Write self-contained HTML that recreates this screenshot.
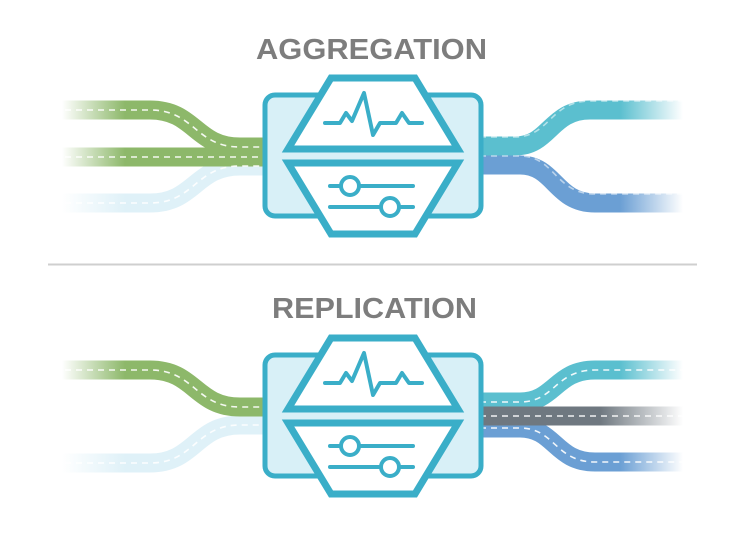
<!DOCTYPE html>
<html><head><meta charset="utf-8"><style>html,body{margin:0;padding:0;background:#fff}svg{display:block}</style></head>
<body>
<svg width="750" height="540" viewBox="0 0 750 540" xmlns="http://www.w3.org/2000/svg">
<defs>
<linearGradient id="fg" gradientUnits="userSpaceOnUse" x1="62" y1="0" x2="125" y2="0"><stop offset="0" stop-color="#8db86a" stop-opacity="0"/><stop offset="1" stop-color="#8db86a"/></linearGradient>
<linearGradient id="fl" gradientUnits="userSpaceOnUse" x1="62" y1="0" x2="125" y2="0"><stop offset="0" stop-color="#dff1f8" stop-opacity="0"/><stop offset="1" stop-color="#dff1f8"/></linearGradient>
<linearGradient id="ft" gradientUnits="userSpaceOnUse" x1="620" y1="0" x2="683" y2="0"><stop offset="0" stop-color="#5bbfcf"/><stop offset="1" stop-color="#5bbfcf" stop-opacity="0"/></linearGradient>
<linearGradient id="fb" gradientUnits="userSpaceOnUse" x1="620" y1="0" x2="683" y2="0"><stop offset="0" stop-color="#6b9fd4"/><stop offset="1" stop-color="#6b9fd4" stop-opacity="0"/></linearGradient>
<linearGradient id="fk" gradientUnits="userSpaceOnUse" x1="600" y1="0" x2="683" y2="0"><stop offset="0" stop-color="#6f7880"/><stop offset="1" stop-color="#6f7880" stop-opacity="0"/></linearGradient>
<g id="box">
<rect x="265" y="95" width="216" height="121" rx="10" fill="#d8f0f7" stroke="#3aaec8" stroke-width="5"/>
<polygon points="331,78 415,78 458,149 288,149" fill="#fff" stroke="#3aaec8" stroke-width="7"/>
<polygon points="288,163 458,163 415,234 331,234" fill="#fff" stroke="#3aaec8" stroke-width="7"/>
<polyline points="325,123 340,123 346,113 352,121 364,93 373,135 380,123 396,123 402,113 409,123 422,123" fill="none" stroke="#3aaec8" stroke-width="4" stroke-linejoin="round" stroke-linecap="round"/>
<line x1="330" y1="186" x2="413" y2="186" stroke="#3aaec8" stroke-width="4" stroke-linecap="round"/>
<line x1="330" y1="207" x2="413" y2="207" stroke="#3aaec8" stroke-width="4" stroke-linecap="round"/>
<circle cx="350" cy="186" r="9" fill="#fff" stroke="#3aaec8" stroke-width="4"/>
<circle cx="390" cy="207" r="9" fill="#fff" stroke="#3aaec8" stroke-width="4"/>
</g>
</defs>
<g fill="none" stroke-width="19">
<!-- top section left -->
<path d="M60,203 H150 C195,203 195,166 240,166 H266" stroke="url(#fl)"/>
<path d="M60,110 H150 C195,110 195,147 240,147 H266" stroke="url(#fg)"/>
<path d="M60,157 H266" stroke="url(#fg)"/>
<!-- top right -->
<path d="M480,146 H515 C550,146 550,110 590,110 H685" stroke="url(#ft)"/>
<path d="M480,165 H520 C555,165 555,203 595,203 H685" stroke="url(#fb)"/>
<!-- bottom left -->
<path d="M60,463 H150 C195,463 195,425 240,425 H266" stroke="url(#fl)"/>
<path d="M60,370 H150 C195,370 195,407 240,407 H266" stroke="url(#fg)"/>
<!-- bottom right -->
<path d="M480,402 H520 C555,402 555,370 595,370 H685" stroke="url(#ft)"/>
<path d="M480,428 H520 C555,428 555,462 595,462 H685" stroke="url(#fb)"/>
<path d="M480,416 H685" stroke="url(#fk)"/>
</g>
<g fill="none" stroke="#fff" stroke-width="1.6" stroke-dasharray="6,5" opacity="0.9">
<path d="M65,203 H150 C195,203 195,166 240,166 H266"/>
<path d="M65,110 H150 C195,110 195,147 240,147 H266"/>
<path d="M65,157 H266"/>
<path d="M65,463 H150 C195,463 195,425 240,425 H266"/>
<path d="M65,370 H150 C195,370 195,407 240,407 H266"/>
<path d="M480,402 H520 C555,402 555,370 595,370 H685"/>
<path d="M480,428 H520 C555,428 555,462 595,462 H685"/>
<path d="M480,416 H685"/>
<path d="M480,137 H515 C550,137 550,101 590,101 H685" opacity="0.6"/>
<path d="M480,156 H520 C555,156 555,194 595,194 H685" opacity="0.6"/>
</g>
<use href="#box"/>
<use href="#box" transform="translate(0,260)"/>
<line x1="48" y1="264.5" x2="697" y2="264.5" stroke="#cfcfcf" stroke-width="2"/>
<text x="256" y="59" font-family="Liberation Sans, sans-serif" font-weight="bold" font-size="29" fill="#7d7d7d" textLength="231" lengthAdjust="spacingAndGlyphs">AGGREGATION</text>
<text x="272" y="318" font-family="Liberation Sans, sans-serif" font-weight="bold" font-size="29" fill="#7d7d7d" textLength="205" lengthAdjust="spacingAndGlyphs">REPLICATION</text>
</svg>
</body></html>
